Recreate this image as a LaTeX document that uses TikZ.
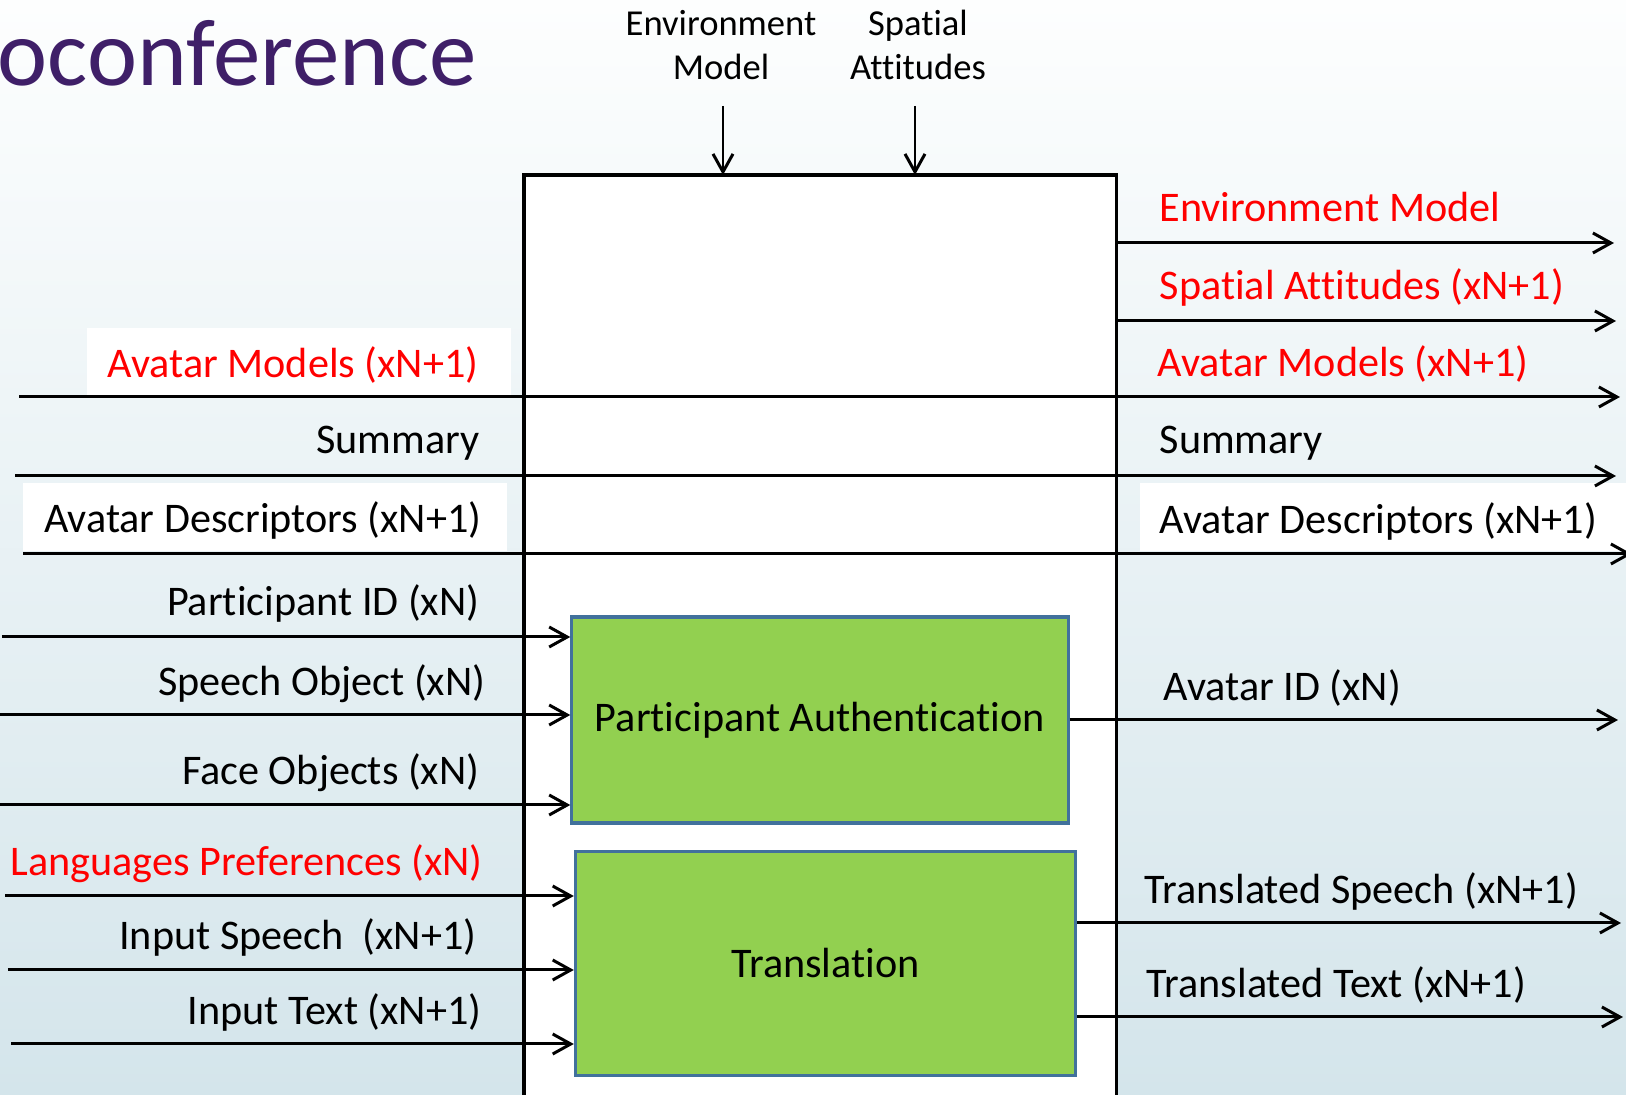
\documentclass[tikz,border=0pt]{standalone}
\usepackage{fontspec}
\setmainfont{Carlito}[RawFeature={-liga,-clig,-calt,-dlig}]
\usetikzlibrary{arrows.meta}

\definecolor{titlepurple}{RGB}{63,31,104}
\definecolor{boxgreen}{RGB}{146,208,80}
\definecolor{boxedge}{RGB}{65,113,156}
\definecolor{bgtop}{RGB}{253,254,254}
\definecolor{bgblue}{RGB}{212,229,235}

\begin{document}
\begin{tikzpicture}[x=0.01cm, y=-0.01cm,
    flow/.style={line width=0.85pt, -{Straight Barb[length=1.8mm, width=2mm]}},
    lbl/.style={inner sep=0pt, font=\fontsize{12}{14}\selectfont},
    hot/.style={lbl, text=red},
    toplbl/.style={inner sep=0pt, align=center, font=\fontsize{10.4}{12.4}\selectfont},
    procbox/.style={draw=boxedge, line width=0.9pt, fill=boxgreen, inner sep=0pt, font=\fontsize{12}{14}\selectfont},
    hubbox/.style={draw, line width=1pt, fill=white, inner sep=0pt, outer sep=0pt}]

    \useasboundingbox (0,0) rectangle (1626,1095);
    \clip (0,0) rectangle (1626,1095);
    \shade[top color=bgtop, bottom color=bgblue] (0,0) rectangle (1626,1095);

    \node (title) [anchor=base west, inner sep=0pt, text=titlepurple, font=\fontsize{27}{32}\selectfont] at (-3,86) {oconference};

    % main block
    \node (hub) [hubbox, anchor=north west, minimum width=5.92cm, minimum height=9.6cm] at (524,175) {};

    % inputs from above
    \node (envtop) [toplbl, anchor=south] at (721,80) {Environment\\Model};
    \node (spatop) [toplbl, anchor=south] at (918,80) {Spatial\\Attitudes};
    \coordinate (envin) at (723,106);
    \coordinate (spain) at (915,106);
    \draw[flow] (envin) -- (envin |- hub.north);
    \draw[flow] (spain) -- (spain |- hub.north);

    % white patches behind labels
    \fill[white] (87,328) rectangle (511,395);
    \fill[white] (23,483) rectangle (507,551);
    \fill[white] (1140,483) rectangle (1626,551);

    % rows running through the block
    \coordinate (amodin) at (19,397);  \coordinate (amodout) at (1620,397);
    \coordinate (sumin) at (15,476);   \coordinate (sumout) at (1616,476);
    \coordinate (descin) at (23,554);  \coordinate (descout) at (1632,554);
    \draw[flow] (amodin) -- (amodout);
    \draw[flow] (sumin) -- (sumout);
    \draw[flow] (descin) -- (descout);

    % outputs of the block
    \coordinate (envout) at (1614,243);
    \coordinate (spaout) at (1616,321);
    \draw[flow] (envout -| hub.east) -- (envout);
    \draw[flow] (spaout -| hub.east) -- (spaout);

    \node (envlbl) [hot, anchor=base west] at (1159,222) {Environment Model};
    \node (spalbl) [hot, anchor=base west] at (1159,300) {Spatial Attitudes (xN+1)};
    \node (amodr)  [hot, anchor=base west] at (1157,377) {Avatar Models (xN+1)};
    \node (amodl)  [hot, anchor=base east] at (479,378) {Avatar Models (xN+1)};
    \node (suml)   [lbl, anchor=base east] at (480,454) {Summary};
    \node (sumr)   [lbl, anchor=base west] at (1159,454) {Summary};
    \node (descl)  [lbl, anchor=base east] at (482,533) {Avatar Descriptors (xN+1)};
    \node (descr)  [lbl, anchor=base west] at (1159,534) {Avatar Descriptors (xN+1)};

    % processing boxes
    \node (auth)  [procbox, minimum width=4.96cm, minimum height=2.06cm] at (820,720) {Participant Authentication};
    \node (trans) [procbox, minimum width=5cm, minimum height=2.24cm] at (825.5,963.4) {Translation};

    % inputs on the left
    \coordinate (pidin) at (2,637);
    \coordinate (sobin) at (0,715);
    \coordinate (faoin) at (0,805);
    \coordinate (lngin) at (5,896);
    \coordinate (ispin) at (8,970);
    \coordinate (itxin) at (11,1044);
    \draw[flow] (pidin) -- (pidin -| auth.west);
    \draw[flow] (sobin) -- (sobin -| auth.west);
    \draw[flow] (faoin) -- (faoin -| auth.west);
    \draw[flow] (lngin) -- (lngin -| trans.west);
    \draw[flow] (ispin) -- (ispin -| trans.west);
    \draw[flow] (itxin) -- (itxin -| trans.west);

    \node (pidlbl) [lbl, anchor=base east] at (480,616) {Participant ID (xN)};
    \node (soblbl) [lbl, anchor=base east] at (486,696) {Speech Object (xN)};
    \node (faolbl) [lbl, anchor=base east] at (480,785) {Face Objects (xN)};
    \node (lnglbl) [hot, anchor=base east] at (483,876) {Languages Preferences (xN)};
    \node (isplbl) [lbl, anchor=base east] at (477,950) {Input Speech\ \ (xN+1)};
    \node (itxlbl) [lbl, anchor=base east] at (482,1025) {Input Text (xN+1)};

    % outputs on the right
    \coordinate (avidout) at (1618,720);
    \coordinate (tspout) at (1621,923);
    \coordinate (ttxout) at (1623,1017);
    \draw[flow] (auth.east) -- (avidout);
    \draw[flow] (tspout -| trans.east) -- (tspout);
    \draw[flow] (ttxout -| trans.east) -- (ttxout);

    \node (avidlbl) [lbl, anchor=base west] at (1163,701) {Avatar ID (xN)};
    \node (tsplbl)  [lbl, anchor=base west] at (1144,904) {Translated Speech (xN+1)};
    \node (ttxlbl)  [lbl, anchor=base west] at (1146,998) {Translated Text (xN+1)};
\end{tikzpicture}
\end{document}
